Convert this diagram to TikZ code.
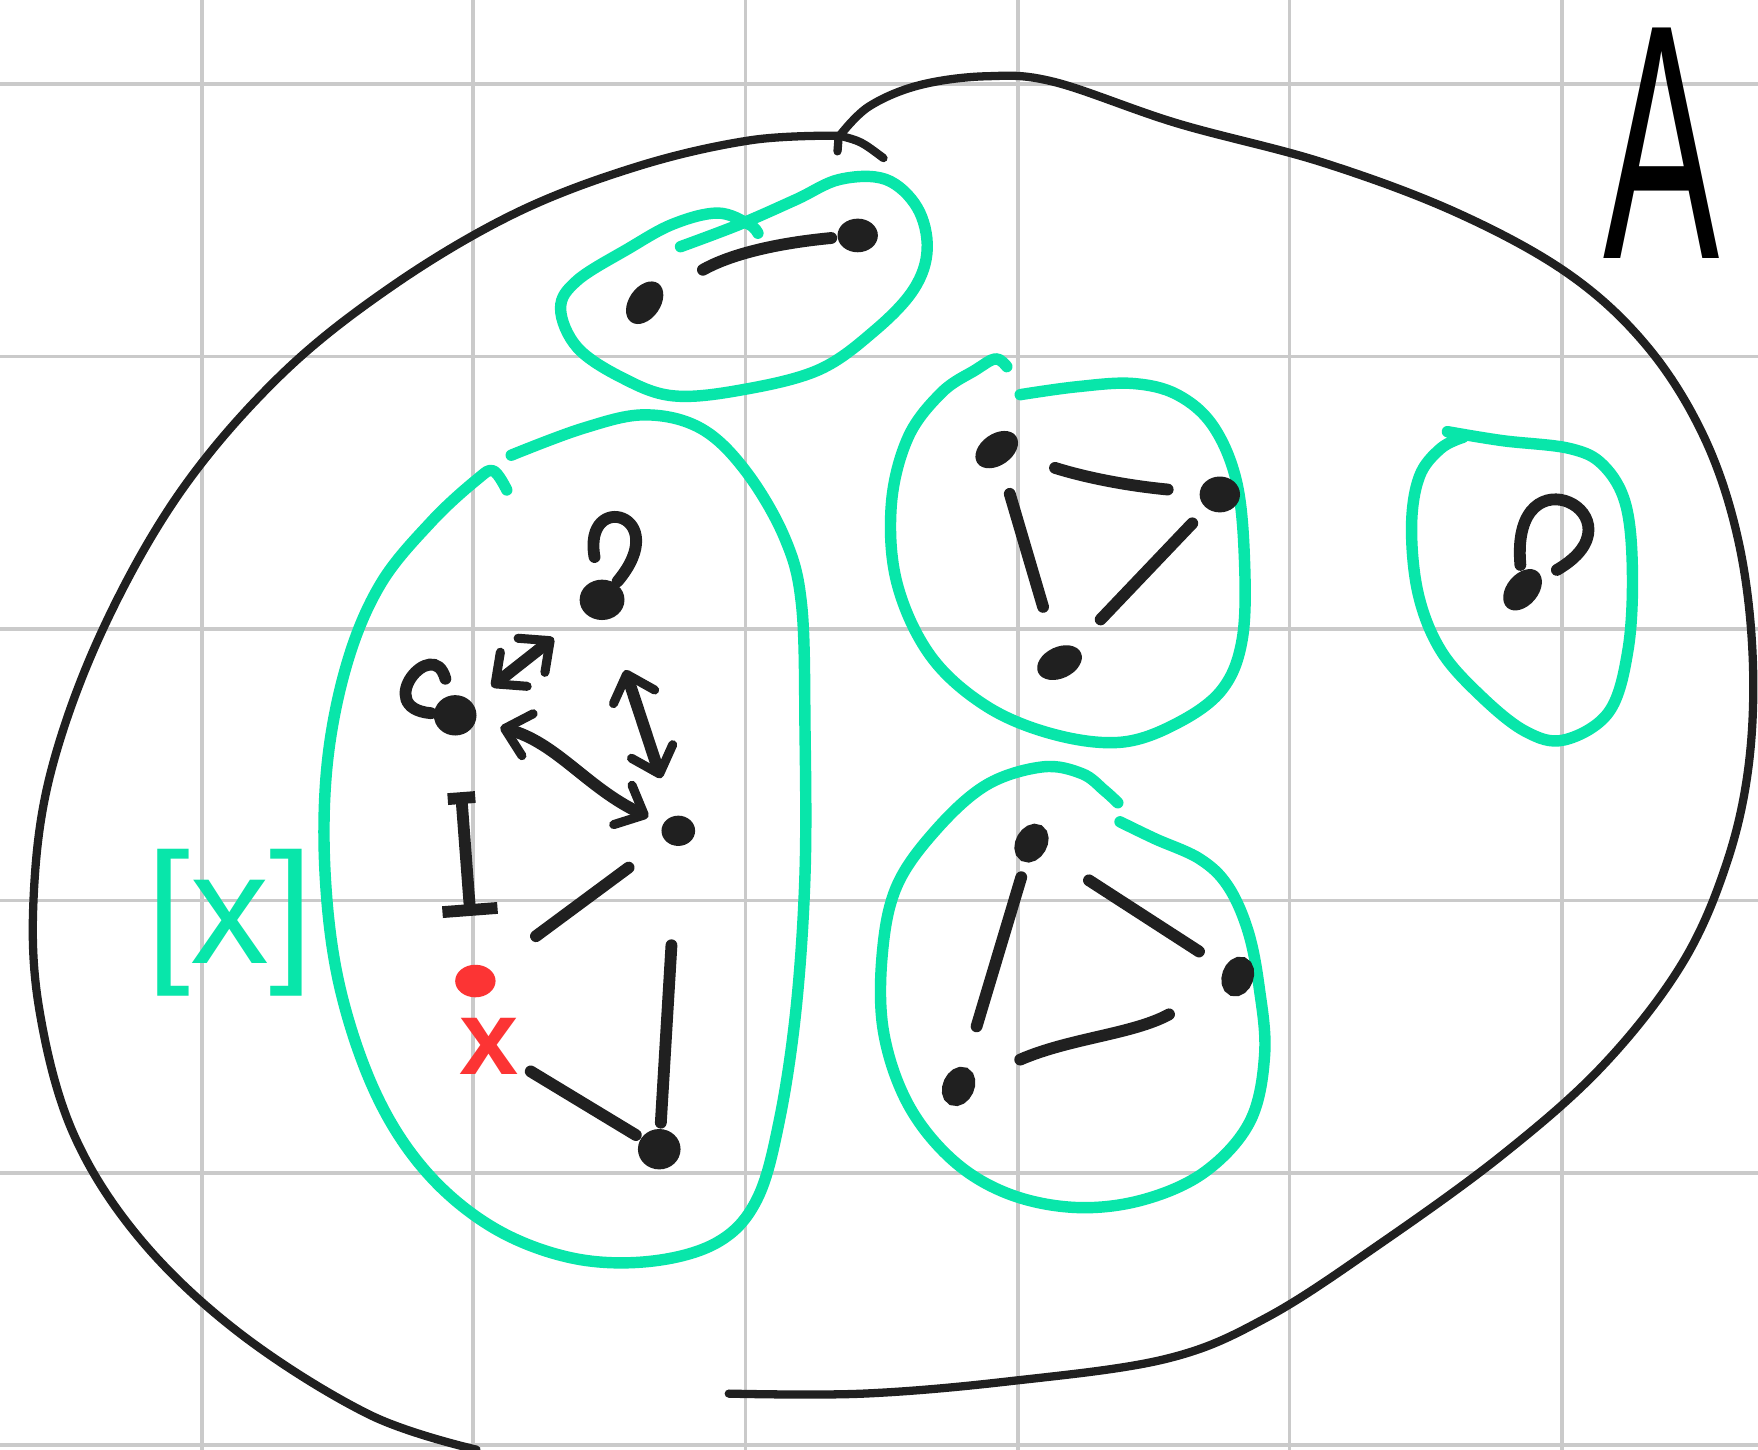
\documentclass[tikz,border=0pt]{standalone}
\usepackage{fontspec}
\setmainfont{Liberation Sans}
\usepackage{xcolor}
\usepackage{tikz}
\usetikzlibrary{arrows.meta,shapes.geometric}

\definecolor{pen}{RGB}{32,32,32}
\definecolor{mint}{RGB}{8,230,170}
\definecolor{hot}{RGB}{252,52,52}
\definecolor{gridgray}{RGB}{202,202,202}

\begin{document}
\begin{tikzpicture}[x=0.01cm,y=-0.01cm,
  gridline/.style={gridgray,line width=0.9pt},
  outline/.style={pen,line width=2.1pt,line cap=round,line join=round},
  cls/.style={mint,line width=2.9pt,line cap=round,line join=round},
  rel/.style={pen,line width=3pt,line cap=round},
  vtx/.style={ellipse,fill=pen,inner sep=0pt,minimum width=0.42cm,minimum height=0.28cm},
  hvtx/.style={ellipse,draw=pen,fill=white,line width=4pt,inner sep=0pt,minimum width=0.22cm,minimum height=0.14cm},
  >={Straight Barb[length=6pt,width=11pt,line width=2.3pt,round]}]
\useasboundingbox (0,0) rectangle (1568,1293);
%纸
\fill[white] (0,0) rectangle (1568,1293);
\foreach \gx in {180,422,665,908,1150,1393} \draw[gridline] (\gx,0)--(\gx,1293);
\foreach \gy in {75,318,561,803,1046,1289} \draw[gridline] (0,\gy)--(1568,\gy);

%集合A
\draw[outline] plot[smooth,tension=0.6] coordinates {(425,1293) (330,1262) (215,1190) (125,1105) (65,1010) (35,900) (30,800) (45,690) (90,565) (160,440) (250,335) (350,255) (460,190) (570,148) (670,125) (749,121)};
\draw[outline] plot[smooth,tension=0.6] coordinates {(749,121) (775,95) (820,76) (880,68) (940,73) (1050,110) (1180,145) (1300,190) (1400,245) (1470,310) (1520,390) (1550,480) (1563,580) (1560,680) (1540,770) (1500,860) (1430,950) (1340,1030) (1230,1110) (1130,1175) (1040,1212) (900,1232) (770,1243) (650,1243)};
\draw[outline] (749,121) .. controls (768,126) .. (788,141);
\draw[outline] (748,122) -- (747,135);
\node[font=\fontsize{85}{90}\selectfont,xscale=0.52,inner sep=0pt] (setA) at (1482,128) {A};

%等价类
\draw[cls] plot[smooth,tension=0.6] coordinates {(607,220) (660,200) (710,178) (749,160) (790,160) (818,185) (827,222) (815,258) (780,295) (730,330) (660,348) (600,353) (555,337) (515,310) (500,275) (515,250) (560,222) (600,200) (640,190) (668,200) (676,208)};
\draw[cls] plot[smooth,tension=0.6] coordinates {(456,406) (520,382) (575,370) (625,382) (665,420) (700,480) (715,540) (718,650) (718,780) (710,900) (695,1000) (675,1070) (640,1108) (580,1125) (510,1122) (440,1095) (380,1045) (335,975) (303,880) (290,780) (292,680) (310,590) (340,520) (385,465) (425,428) (440,420) (452,437)};
\draw[cls] plot[smooth,tension=0.6] coordinates {(910,352) (960,345) (1010,342) (1050,352) (1082,380) (1103,430) (1110,500) (1108,570) (1090,615) (1050,645) (1000,662) (940,655) (880,630) (830,585) (800,520) (795,450) (810,390) (840,350) (870,330) (888,320) (898,327)};
\draw[cls] plot[smooth,tension=0.6] coordinates {(999,733) (1030,748) (1070,766) (1095,790) (1113,830) (1123,880) (1128,940) (1115,1000) (1075,1045) (1020,1070) (960,1077) (900,1065) (850,1035) (810,985) (788,920) (787,850) (800,790) (835,740) (880,700) (930,684) (965,690) (985,705) (997,716)};
\draw[cls] plot[smooth,tension=0.6] coordinates {(1291,385) (1340,393) (1400,400) (1430,415) (1450,450) (1456,510) (1452,580) (1435,635) (1395,660) (1360,652) (1320,620) (1285,580) (1265,530) (1259,470) (1266,425) (1285,400) (1305,390)};
\node[mint,font=\fontsize{40}{44}\selectfont,inner sep=0pt] (cls) at (205,823) {[x]};

%上方的类
\node[vtx,rotate=55] (h) at (575,270) {};
\node[vtx,minimum width=0.36cm,minimum height=0.3cm] (i) at (765,210) {};
\draw[rel,shorten <=0.4cm,shorten >=0.05cm] (h) to[bend left=12] (i);

%左边的类
\node[vtx,minimum width=0.4cm,minimum height=0.36cm] (p) at (537,535) {};
\node[vtx,minimum width=0.38cm,minimum height=0.36cm] (q) at (406,638) {};
\node[vtx,minimum width=0.3cm,minimum height=0.27cm] (r) at (605,741) {};
\node[vtx,fill=hot,minimum width=0.36cm,minimum height=0.29cm] (s) at (424,875) {};
\node[hot,font=\fontsize{27}{30}\selectfont\bfseries,inner sep=0pt] (xl) at (436,933) {x};
\node[vtx,minimum width=0.38cm,minimum height=0.36cm] (t) at (588,1025) {};

\draw[rel,shorten <=0.02cm,shorten >=0.2cm] (p) .. controls +(50:1cm) and +(100:1cm) .. (p);
\draw[rel,shorten <=0.02cm,shorten >=0.15cm] (q) .. controls +(175:0.75cm) and +(105:0.75cm) .. (q);
\draw[rel,<->,shorten <=0.22cm,shorten >=0.35cm] (q) -- (p);
\draw[rel,<->,shorten <=0.22cm,shorten >=0.14cm] (q) to[out=-15,in=155] (r);
\draw[rel,<->,shorten <=0.47cm,shorten >=0.35cm] (p) -- (r);
\draw[rel,{Bar[width=7pt]}-{Bar[width=14pt]},shorten <=0.5cm,shorten >=0.43cm] (q) -- (s);
\draw[rel,shorten <=0.4cm,shorten >=0.5cm] (r) -- (s);
\draw[rel,shorten <=0.88cm,shorten >=0.05cm] (r) -- (t);
\draw[rel,shorten <=0.12cm,shorten >=0.05cm] (xl) -- (t);

%中间的三角形
\node[vtx,rotate=35] (a) at (889,401) {};
\node[vtx,minimum width=0.36cm,minimum height=0.32cm] (b) at (1088,441) {};
\node[vtx,rotate=25] (c) at (945,591) {};
\draw[rel,shorten <=0.38cm,shorten >=0.28cm] (a) to[bend right=6] (b);
\draw[rel,shorten <=0.26cm,shorten >=0.37cm] (a) -- (c);
\draw[rel,shorten <=0.18cm,shorten >=0.33cm] (b) -- (c);

%下面的三角形
\node[hvtx,rotate=60] (d) at (920,752) {};
\node[hvtx,rotate=70] (e) at (1104,871) {};
\node[hvtx,rotate=65] (f) at (855,969) {};
\draw[rel,shorten <=0.14cm,shorten >=0.38cm] (d) -- (f);
\draw[rel,shorten <=0.47cm,shorten >=0.27cm] (d) -- (e);
\draw[rel,shorten <=0.54cm,shorten >=0.44cm] (e) to[out=200,in=15] (f);

%右边的单点类
\node[vtx,rotate=50] (g) at (1358,526) {};
\draw[rel,shorten <=0.05cm,shorten >=0.15cm] (g) .. controls +(95:1.3cm) and +(30:1.3cm) .. (g);
\end{tikzpicture}
\end{document}
